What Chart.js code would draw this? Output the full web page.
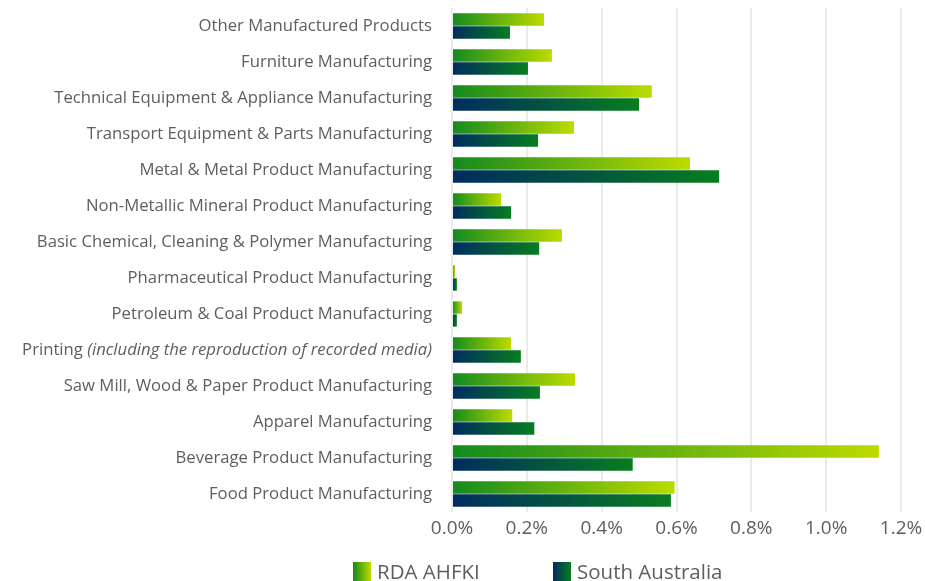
<!DOCTYPE html>
<html>
<head>
<meta charset="utf-8">
<script src="https://cdn.jsdelivr.net/npm/chart.js@4.4.1/dist/chart.umd.min.js"></script>
<style>
  html, body { margin: 0; padding: 0; background: #fff; }
  #wrap { width: 925px; height: 581px; position: relative; }
</style>
</head>
<body>
<div id="wrap"><canvas id="industryChart"></canvas></div>
<script>
// Manufacturing sub-sector share of employment (%), top to bottom
const categories = [
  'Other Manufactured Products',
  'Furniture Manufacturing',
  'Technical Equipment & Appliance Manufacturing',
  'Transport Equipment & Parts Manufacturing',
  'Metal & Metal Product Manufacturing',
  'Non-Metallic Mineral Product Manufacturing',
  'Basic Chemical, Cleaning & Polymer Manufacturing',
  'Pharmaceutical Product Manufacturing',
  'Petroleum & Coal Product Manufacturing',
  'Printing (including the reproduction of recorded media)',
  'Saw Mill, Wood & Paper Product Manufacturing',
  'Apparel Manufacturing',
  'Beverage Product Manufacturing',
  'Food Product Manufacturing'
];

const rdaValues = [0.246, 0.267, 0.534, 0.326, 0.636, 0.131, 0.294, 0.008, 0.027, 0.158, 0.329, 0.161, 1.141, 0.595];
const saValues  = [0.155, 0.203, 0.500, 0.230, 0.714, 0.158, 0.233, 0.013, 0.013, 0.184, 0.235, 0.220, 0.483, 0.585];

const xTicks = [0, 0.2, 0.4, 0.6, 0.8, 1.0, 1.2];

const seriesNames = ['RDA AHFKI', 'South Australia'];
const rdaStops = ['#128a1e', '#bddb00'];
const saStops  = ['#002c5f', '#087d20'];

const FONT = '"Open Sans"';
const TEXT = '#5e5e5e';
const LABEL_SIZE = 16.7;

// horizontal gradient running along each bar, from the zero line to the bar end
function barGradient(stops) {
  return (ctx) => {
    const chart = ctx.chart;
    if (!chart.chartArea || ctx.type !== 'data') return stops[1];
    const x = chart.scales.x;
    const x0 = x.getPixelForValue(0);
    const x1 = Math.max(x.getPixelForValue(ctx.parsed.x), x0 + 1);
    const g = chart.ctx.createLinearGradient(x0, 0, x1, 0);
    g.addColorStop(0, stops[0]);
    g.addColorStop(1, stops[1]);
    return g;
  };
}

const PRINTING_INDEX = 9;

// the printing label has an italic part, so it is drawn by hand
const mixedLabel = {
  id: 'mixedLabel',
  afterDraw(chart) {
    const y = chart.scales.y;
    const ctx = chart.ctx;
    const py = y.getPixelForTick(PRINTING_INDEX);
    const right = chart.chartArea.left - 20;
    const plain = 'Printing ';
    const italic = '(including the reproduction of recorded media)';
    const regular = LABEL_SIZE + 'px ' + FONT;
    const slanted = 'italic ' + LABEL_SIZE + 'px ' + FONT;
    ctx.save();
    ctx.fillStyle = TEXT;
    ctx.textBaseline = 'middle';
    ctx.textAlign = 'left';
    ctx.font = slanted;
    const wi = ctx.measureText(italic).width;
    ctx.font = regular;
    const wp = ctx.measureText(plain).width;
    ctx.fillText(plain, right - wi - wp, py);
    ctx.font = slanted;
    ctx.fillText(italic, right - wi, py);
    ctx.restore();
  }
};

// legend row under the axis with gradient swatches
const legendRow = {
  id: 'legendRow',
  afterDraw(chart) {
    const ctx = chart.ctx;
    const startX = 353, gapX = 200, boxY = 562, boxW = 18, boxH = 20;
    ctx.save();
    [rdaStops, saStops].forEach((stops, i) => {
      const bx = startX + i * gapX;
      const g = ctx.createLinearGradient(bx, 0, bx + boxW, 0);
      g.addColorStop(0, stops[0]);
      g.addColorStop(1, stops[1]);
      ctx.fillStyle = g;
      ctx.fillRect(bx, boxY, boxW, boxH);
      ctx.fillStyle = TEXT;
      ctx.font = '20.5px ' + FONT;
      ctx.textBaseline = 'alphabetic';
      ctx.fillText(seriesNames[i], bx + boxW + 6, 579);
    });
    ctx.restore();
  }
};

new Chart(document.getElementById('industryChart'), {
  type: 'bar',
  data: {
    labels: categories,
    datasets: [
      {
        label: seriesNames[0],
        data: rdaValues,
        backgroundColor: barGradient(rdaStops),
        categoryPercentage: 0.72,
        barPercentage: 0.95
      },
      {
        label: seriesNames[1],
        data: saValues,
        backgroundColor: barGradient(saStops),
        categoryPercentage: 0.72,
        barPercentage: 0.95
      }
    ]
  },
  options: {
    indexAxis: 'y',
    responsive: true,
    maintainAspectRatio: false,
    animation: false,
    layout: { padding: { top: 8, right: 24, bottom: 39, left: 0 } },
    scales: {
      x: {
        min: 0,
        max: 1.2,
        afterBuildTicks(scale) {
          scale.ticks = xTicks.map(v => ({ value: v }));
        },
        afterFit(scale) {
          scale.height = 30;
          scale.paddingLeft = 0;
          scale.paddingRight = 0;
        },
        grid: { color: '#ebebeb', lineWidth: 2, drawTicks: false },
        border: { display: false },
        ticks: {
          padding: 5,
          color: TEXT,
          font: { family: FONT, size: 19 },
          callback: v => v.toFixed(1) + '%'
        }
      },
      y: {
        afterFit(scale) {
          scale.width = 452;
          scale.paddingTop = 0;
          scale.paddingBottom = 0;
        },
        grid: { display: false, drawTicks: false },
        border: { display: false },
        ticks: {
          padding: 20,
          autoSkip: false,
          color: c => c.index === PRINTING_INDEX ? 'rgba(0,0,0,0)' : TEXT,
          font: { family: FONT, size: LABEL_SIZE }
        }
      }
    },
    plugins: {
      legend: { display: false },
      tooltip: { enabled: false }
    }
  },
  plugins: [mixedLabel, legendRow]
});
</script>
</body>
</html>
